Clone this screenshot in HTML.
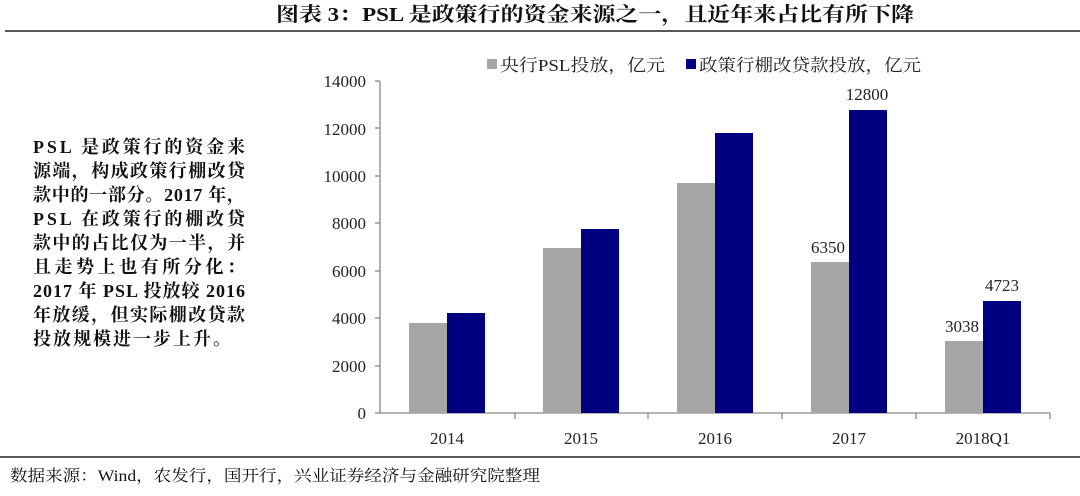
<!DOCTYPE html>
<html><head><meta charset="utf-8"><style>
body{margin:0;background:#fff;width:1080px;height:491px;overflow:hidden;font-family:"Liberation Serif","Noto Serif CJK SC",serif}
</style></head><body>
<svg width="1080" height="491" xmlns="http://www.w3.org/2000/svg" font-family="'Liberation Serif','Noto Serif CJK SC',serif">
<text x="276" y="21" font-size="20" font-weight="bold" fill="#111" textLength="638" lengthAdjust="spacingAndGlyphs">图表 3：PSL 是政策行的资金来源之一，且近年来占比有所下降</text>
<line x1="5" y1="31" x2="1080" y2="31" stroke="#222" stroke-width="1.5"/>
<line x1="0" y1="457" x2="1080" y2="457" stroke="#222" stroke-width="1.5"/>
<text x="10" y="481" font-size="16" fill="#111" textLength="530" lengthAdjust="spacingAndGlyphs">数据来源：Wind，农发行，国开行，兴业证券经济与金融研究院整理</text>
<g font-size="18" font-weight="bold" fill="#111" lengthAdjust="spacing">
<text x="33" y="153" textLength="212">PSL 是政策行的资金来</text>
<text x="33" y="177" textLength="212">源端，构成政策行棚改贷</text>
<text x="33" y="201" textLength="212">款中的一部分。2017 年，</text>
<text x="33" y="225" textLength="212">PSL 在政策行的棚改贷</text>
<text x="33" y="249" textLength="212">款中的占比仅为一半，并</text>
<text x="33" y="273" textLength="212">且走势上也有所分化：</text>
<text x="33" y="297" textLength="212">2017 年 PSL 投放较 2016</text>
<text x="33" y="321" textLength="212">年放缓，但实际棚改贷款</text>
<text x="33" y="345" textLength="198">投放规模进一步上升。</text>
</g>
<rect x="487" y="59" width="10" height="10" fill="#a6a6a6"/>
<text x="500" y="71" font-size="17" fill="#222" textLength="165" lengthAdjust="spacingAndGlyphs">央行PSL投放，亿元</text>
<rect x="686" y="59" width="10" height="10" fill="#000080"/>
<text x="699" y="71" font-size="17" fill="#222" textLength="222" lengthAdjust="spacingAndGlyphs">政策行棚改贷款投放，亿元</text>
<g font-size="17" fill="#222" text-anchor="end">
<text x="366" y="419">0</text><text x="366" y="372">2000</text><text x="366" y="324">4000</text>
<text x="366" y="277">6000</text><text x="366" y="229">8000</text><text x="366" y="182">10000</text>
<text x="366" y="135">12000</text><text x="366" y="87">14000</text>
</g>
<g stroke="#888" stroke-width="1.3">
<line x1="380" y1="81" x2="380" y2="413"/>
<line x1="380" y1="413" x2="1050" y2="413"/>
<line x1="375" y1="81" x2="380" y2="81"/><line x1="375" y1="128" x2="380" y2="128"/><line x1="375" y1="176" x2="380" y2="176"/><line x1="375" y1="223" x2="380" y2="223"/><line x1="375" y1="271" x2="380" y2="271"/><line x1="375" y1="318" x2="380" y2="318"/><line x1="375" y1="366" x2="380" y2="366"/><line x1="375" y1="413" x2="380" y2="413"/>
<line x1="515" y1="413" x2="515" y2="419"/><line x1="648" y1="413" x2="648" y2="419"/><line x1="782" y1="413" x2="782" y2="419"/><line x1="916" y1="413" x2="916" y2="419"/><line x1="1050" y1="413" x2="1050" y2="419"/>
</g>
<g fill="#a6a6a6">
<rect x="409" y="323" width="38" height="90"/>
<rect x="543" y="248" width="38" height="165"/>
<rect x="677" y="183" width="38" height="230"/>
<rect x="811" y="262" width="38" height="151"/>
<rect x="945" y="341" width="38" height="72"/>
</g>
<g fill="#000080">
<rect x="447" y="313" width="38" height="100"/>
<rect x="581" y="229" width="38" height="184"/>
<rect x="715" y="133" width="38" height="280"/>
<rect x="849" y="110" width="38" height="303"/>
<rect x="983" y="301" width="38" height="112"/>
</g>
<g font-size="17" fill="#222" text-anchor="middle">
<text x="828" y="253">6350</text><text x="867" y="100">12800</text>
<text x="962" y="332">3038</text><text x="1002" y="291">4723</text>
<text x="447" y="444">2014</text><text x="581" y="444">2015</text><text x="715" y="444">2016</text><text x="849" y="444">2017</text><text x="983" y="444">2018Q1</text>
</g>
</svg>
</body></html>
